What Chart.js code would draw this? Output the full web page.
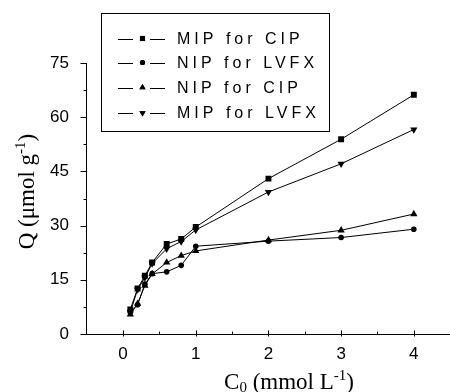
<!DOCTYPE html>
<html>
<head>
<meta charset="utf-8">
<script src="https://cdn.jsdelivr.net/npm/chart.js@4.4.0/dist/chart.umd.min.js"></script>
<style>
  body { margin: 0; background: #fff; }
  canvas { display: block; }
</style>
</head>
<body>
<canvas id="chart" width="450" height="392"></canvas>
<script>
// Données
const concentrations = [0.1, 0.2, 0.3, 0.4, 0.6, 0.8, 1, 2, 3, 4];
const mipCip  = [6.8, 12.6, 16.1, 19.8, 24.9, 26.3, 29.6, 43.0, 53.9, 66.2];
const nipLvfx = [6.0, 8.1, 13.8, 16.7, 17.2, 19.0, 24.3, 25.7, 26.7, 29.0];
const nipCip  = [5.4, 8.4, 13.4, 16.6, 19.8, 21.7, 23.0, 26.0, 28.7, 33.2];
const mipLvfx = [6.1, 12.3, 15.6, 19.5, 23.6, 25.6, 28.8, 39.3, 47.1, 56.6];
const seriesNames = ['MIP for CIP', 'NIP for LVFX', 'NIP for CIP', 'MIP for LVFX'];
const xTicks = [0, 1, 2, 3, 4];
const yTicks = [0, 15, 30, 45, 60, 75];

const tickFont = '"Liberation Sans", Arial, sans-serif';
const serifFont = '"Liberation Serif", "Times New Roman", serif';

function toPoints(values) {
    return values.map((v, i) => ({ x: concentrations[i], y: v }));
}

const markers = [
    { style: 'rect', radius: 4.2, rotation: 0 },
    { style: 'circle', radius: 2.8, rotation: 0 },
    { style: 'triangle', radius: 4.2, rotation: 0 },
    { style: 'triangle', radius: 4.2, rotation: 180 }
];

const allSeries = [mipCip, nipLvfx, nipCip, mipLvfx];

const datasets = allSeries.map((values, i) => ({
    label: seriesNames[i],
    data: toPoints(values),
    borderColor: '#000',
    backgroundColor: '#000',
    borderWidth: 1,
    pointStyle: markers[i].style,
    pointRadius: markers[i].radius,
    pointRotation: markers[i].rotation,
    pointBorderWidth: 0,
    tension: 0
}));

// Axes, légende et titres dessinés à la main
const decorPlugin = {
    id: 'decor',
    afterDraw(chart) {
        const ctx = chart.ctx;
        const area = chart.chartArea;
        const xs = chart.scales.x;
        const ys = chart.scales.y;
        ctx.save();
        ctx.strokeStyle = '#000';
        ctx.fillStyle = '#000';
        ctx.lineWidth = 1;

        // axe Y
        const ax = Math.round(area.left) + 0.5;
        ctx.beginPath();
        ctx.moveTo(ax, ys.getPixelForValue(75));
        ctx.lineTo(ax, area.bottom);
        for (let v = 0; v <= 75; v += 7.5) {
            const y = Math.round(ys.getPixelForValue(v)) + 0.5;
            const major = Math.abs(v % 15) < 0.01;
            ctx.moveTo(ax, y);
            ctx.lineTo(ax - (major ? 6 : 3), y);
        }
        // axe X
        const ay = Math.round(area.bottom) + 0.5;
        ctx.moveTo(area.left, ay);
        ctx.lineTo(chart.width, ay);
        for (let v = 0; v <= 4; v += 0.5) {
            const x = Math.round(xs.getPixelForValue(v)) + 0.5;
            const major = Math.abs(v % 1) < 0.01;
            ctx.moveTo(x, ay - (major ? 4 : 3));
            ctx.lineTo(x, ay + (major ? 2 : 0));
        }
        ctx.stroke();

        // légende
        ctx.strokeRect(101.5, 13.5, 228, 118);
        const rows = [38.5, 62.5, 87.5, 113];
        ctx.font = '16px ' + tickFont;
        ctx.textBaseline = 'middle';
        ctx.letterSpacing = '4px';
        rows.forEach((ry, i) => {
            ctx.beginPath();
            ctx.moveTo(118, Math.round(ry) + 0.5);
            ctx.lineTo(133, Math.round(ry) + 0.5);
            ctx.moveTo(150, Math.round(ry) + 0.5);
            ctx.lineTo(165, Math.round(ry) + 0.5);
            ctx.stroke();
            const m = markers[i];
            Chart.helpers.drawPoint(ctx, {
                pointStyle: m.style,
                radius: m.style === 'circle' ? 2.6 : 3.6,
                rotation: m.rotation,
                borderWidth: 0
            }, 142.5, ry);
            ctx.fill();
            ctx.fillText(seriesNames[i], 177, ry + 1);
        });
        ctx.letterSpacing = '0px';

        // titre X : C0 (mmol L-1)
        const big = '23px ' + serifFont;
        const small = '15px ' + serifFont;
        const xParts = [
            { t: 'C', f: big, dy: 0 },
            { t: '0', f: small, dy: 3 },
            { t: ' (mmol L', f: big, dy: 0 },
            { t: '-1', f: small, dy: -9 },
            { t: ')', f: big, dy: 0 }
        ];
        drawParts(ctx, xParts, 289, 389);

        // titre Y : Q (μmol g-1)
        const yParts = [
            { t: 'Q (\u03bcmol g', f: big, dy: 0 },
            { t: '-1', f: small, dy: -9 },
            { t: ')', f: big, dy: 0 }
        ];
        ctx.translate(34, 191.5);
        ctx.rotate(-Math.PI / 2);
        drawParts(ctx, yParts, 0, 0);
        ctx.restore();
    }
};

function drawParts(ctx, parts, cx, baseY) {
    ctx.textBaseline = 'alphabetic';
    ctx.textAlign = 'left';
    let total = 0;
    parts.forEach(p => { ctx.font = p.f; total += ctx.measureText(p.t).width; });
    let x = cx - total / 2;
    parts.forEach(p => {
        ctx.font = p.f;
        ctx.fillText(p.t, x, baseY + p.dy);
        x += ctx.measureText(p.t).width;
    });
}

new Chart(document.getElementById('chart').getContext('2d'), {
    type: 'line',
    data: { datasets: datasets },
    options: {
        responsive: false,
        animation: false,
        layout: { padding: { top: 63, right: 0, left: 0, bottom: 0 } },
        plugins: { legend: { display: false }, tooltip: { enabled: false } },
        scales: {
            x: {
                type: 'linear',
                min: -0.51,
                max: 4.44,
                afterBuildTicks: s => { s.ticks = xTicks.map(v => ({ value: v })); },
                afterFit: s => { s.height = 58; },
                grid: { display: false },
                border: { display: false },
                ticks: { color: '#000', font: { family: tickFont, size: 17 }, padding: 2, maxRotation: 0 }
            },
            y: {
                min: 0,
                max: 75,
                afterBuildTicks: s => { s.ticks = yTicks.map(v => ({ value: v })); },
                afterFit: s => { s.width = 86; },
                grid: { display: false },
                border: { display: false },
                ticks: { color: '#000', font: { family: tickFont, size: 17 }, padding: 9 }
            }
        }
    },
    plugins: [decorPlugin]
});
</script>
</body>
</html>
